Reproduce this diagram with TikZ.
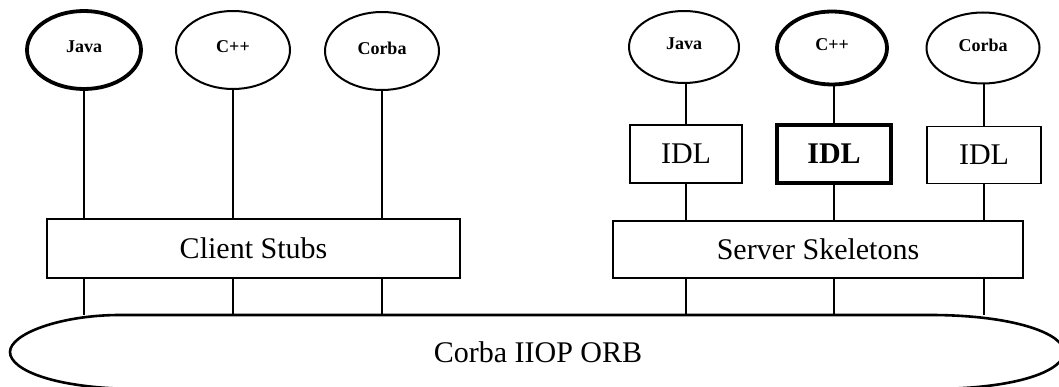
\documentclass[tikz,border=0pt]{standalone}
\usepackage{fontspec}
\setmainfont{Liberation Serif}
\usetikzlibrary{shapes.geometric}
\begin{document}
\begin{tikzpicture}[x=1pt,y=-1pt,
  lang/.style={ellipse,draw,line width=2pt,inner sep=0pt,
    font=\fontsize{18}{18}\selectfont\bfseries,text depth=6pt},
  heavy/.style={line width=3.8pt},
  block/.style={draw,line width=1.8pt,inner sep=0pt,
    font=\fontsize{30}{30}\selectfont},
  wire/.style={line width=1.6pt},
]
\useasboundingbox (0,0) rectangle (1059,387);

% ORB bus
\draw[line width=2.6pt]
  (120,315) -- (930,315)
  .. controls (1015,315) and (1064,334) .. (1064,352)
  .. controls (1064,370) and (1020,389) .. (930,389)
  -- (140,389)
  .. controls (55,389) and (10,370) .. (10,352)
  .. controls (10,334) and (60,315) .. (120,315) -- cycle;
\coordinate (orbtop) at (0,315);
\node[font=\fontsize{30}{30}\selectfont] (orb) at (538,352) {Corba IIOP ORB};

% client side
\node[lang,heavy,minimum width=114pt,minimum height=78pt] (cj) at (84,50) {Java};
\node[lang,minimum width=114pt,minimum height=78pt] (cc) at (233,50) {C++};
\node[lang,minimum width=114pt,minimum height=78pt] (cb) at (382,51) {Corba};
\node[block,minimum width=413pt,minimum height=59pt] (cs) at (253.5,248.5) {Client Stubs};

\draw[wire,line width=2.6pt] (cj.south) -- (cj.south |- cs.north);
\draw[wire] (cc.south) -- (cc.south |- cs.north);
\draw[wire] (cb.south) -- (cb.south |- cs.north);
\foreach \n in {cj,cc,cb}
  \draw[wire] (cs.south -| \n) -- (\n |- orbtop);

% server side
\node[lang,minimum width=110pt,minimum height=72pt] (sj) at (684,47) {Java};
\node[lang,heavy,minimum width=110pt,minimum height=73pt] (sc) at (832,48) {C++};
\node[lang,minimum width=113pt,minimum height=71pt] (sb) at (983,48) {Corba};

\node[block,minimum width=112pt,minimum height=58pt] (ij) at (686,154) {IDL};
\node[block,heavy,minimum width=114pt,minimum height=58pt,
  font=\fontsize{30}{30}\selectfont\bfseries] (ic) at (834,154) {IDL};
\node[block,minimum width=114pt,minimum height=57pt] (ib) at (984,155) {IDL};

\node[block,minimum width=410pt,minimum height=57pt] (ss) at (818,249.5) {Server Skeletons};

\draw[wire] (ij.north) -- (ij.north |- sj.south);
\draw[wire,line width=2.6pt] (ic.north) -- (ic.north |- sc.south);
\draw[wire] (ib.north) -- (ib.north |- sb.south);
\draw[wire] (ij.south) -- (ij.south |- ss.north);
\draw[wire,line width=2.6pt] (ic.south) -- (ic.south |- ss.north);
\draw[wire] (ib.south) -- (ib.south |- ss.north);
\foreach \n in {ij,ic,ib}
  \draw[wire] (ss.south -| \n) -- (\n |- orbtop);
\end{tikzpicture}
\end{document}
